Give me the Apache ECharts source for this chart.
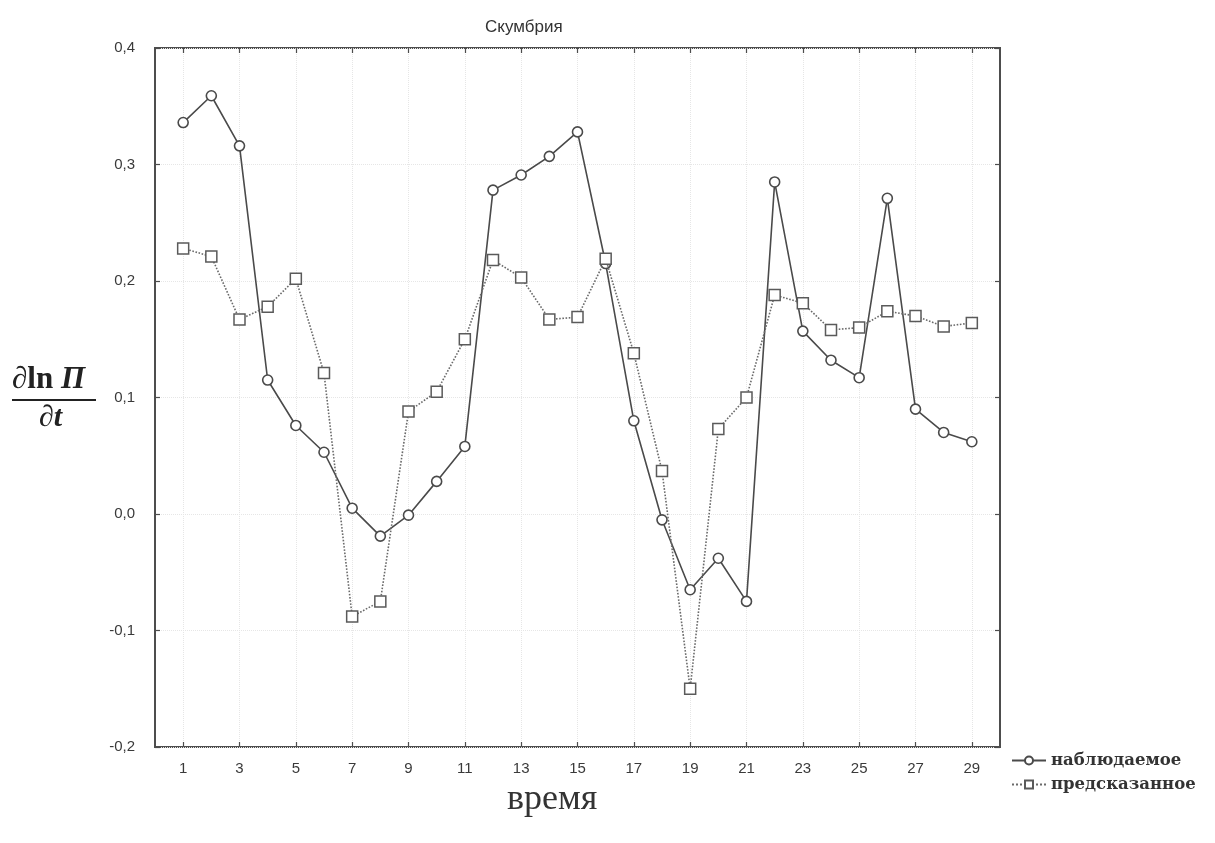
<!DOCTYPE html>
<html>
<head>
<meta charset="utf-8">
<script src="https://cdn.jsdelivr.net/npm/echarts@6/dist/echarts.min.js"></script>
<style>
  html, body { margin: 0; padding: 0; background: #fff; }
  #chart { width: 1215px; height: 843px; }
</style>
</head>
<body>
<div id="chart"></div>
<script>
// Time steps (x) and the two series of d ln П / dt
const timeSteps = [1, 2, 3, 4, 5, 6, 7, 8, 9, 10, 11, 12, 13, 14, 15,
                   16, 17, 18, 19, 20, 21, 22, 23, 24, 25, 26, 27, 28, 29];
const observed = [0.336, 0.359, 0.316, 0.115, 0.076, 0.053, 0.005, -0.019, -0.001, 0.028,
                  0.058, 0.278, 0.291, 0.307, 0.328, 0.215, 0.080, -0.005, -0.065, -0.038,
                  -0.075, 0.285, 0.157, 0.132, 0.117, 0.271, 0.090, 0.070, 0.062];
const predicted = [0.228, 0.221, 0.167, 0.178, 0.202, 0.121, -0.088, -0.075, 0.088, 0.105,
                   0.150, 0.218, 0.203, 0.167, 0.169, 0.219, 0.138, 0.037, -0.150, 0.073,
                   0.100, 0.188, 0.181, 0.158, 0.160, 0.174, 0.170, 0.161, 0.164];
const xTickValues = [1, 3, 5, 7, 9, 11, 13, 15, 17, 19, 21, 23, 25, 27, 29];

const seriesNames = ['наблюдаемое', 'предсказанное'];
const titleText = 'Скумбрия';
const xAxisTitle = 'время';

const chart = echarts.init(document.getElementById('chart'));

const frameColor = '#4d4d4d';
const labelFont = { fontFamily: 'Liberation Sans, Arial, sans-serif', fontSize: 15, color: '#3a3a3a' };
const gridLine = { show: true, lineStyle: { color: '#e6e6e6', type: 'dotted', width: 1 } };
const tickStyle = { show: true, inside: true, length: 5, lineStyle: { color: frameColor, width: 1.2 } };

const pairs = arr => timeSteps.map((t, i) => [t, arr[i]]);
const commaFmt = v => v.toFixed(1).replace('.', ',');

chart.setOption({
  animation: false,
  backgroundColor: '#fff',
  grid: { left: 155, right: 215, top: 48, bottom: 96, show: true, borderColor: frameColor, borderWidth: 2, backgroundColor: 'transparent' },
  xAxis: [
    {
      type: 'value', min: 0, max: 30, position: 'bottom',
      axisLine: { show: false, onZero: false },
      axisTick: Object.assign({ customValues: xTickValues }, tickStyle),
      axisLabel: Object.assign({ margin: 14, customValues: xTickValues, formatter: v => String(v) }, labelFont),
      splitLine: gridLine
    },
    {
      type: 'value', min: 0, max: 30, position: 'top',
      axisLine: { show: false, onZero: false },
      axisTick: Object.assign({ customValues: xTickValues }, tickStyle),
      axisLabel: { show: false },
      splitLine: { show: false }
    }
  ],
  yAxis: [
    {
      type: 'value', min: -0.2, max: 0.4, interval: 0.1, position: 'left',
      axisLine: { show: false, onZero: false },
      axisTick: tickStyle,
      axisLabel: Object.assign({ margin: 20, formatter: commaFmt }, labelFont),
      splitLine: gridLine
    },
    {
      type: 'value', min: -0.2, max: 0.4, interval: 0.1, position: 'right',
      axisLine: { show: false, onZero: false },
      axisTick: tickStyle,
      axisLabel: { show: false },
      splitLine: { show: false }
    }
  ],
  legend: {
    orient: 'vertical', left: 1006, top: 747, itemWidth: 34, itemHeight: 10, itemGap: 7,
    data: seriesNames,
    textStyle: { fontFamily: 'DejaVu Serif, serif', fontWeight: 'bold', fontSize: 16.5, color: '#333' }
  },
  series: [
    {
      name: seriesNames[0], type: 'line', data: pairs(observed), z: 3,
      symbol: 'circle', symbolSize: 10, showAllSymbol: true,
      lineStyle: { color: '#4a4a4a', width: 1.6 },
      itemStyle: { color: '#ffffff', borderColor: '#4a4a4a', borderWidth: 1.6 }
    },
    {
      name: seriesNames[1], type: 'line', data: pairs(predicted), z: 4,
      symbol: 'rect', symbolSize: 11, showAllSymbol: true,
      lineStyle: { color: '#6a6a6a', width: 1.6, type: 'dotted' },
      itemStyle: { color: '#ffffff', borderColor: '#5a5a5a', borderWidth: 1.5 }
    }
  ],
  graphic: [
    { type: 'text', left: 485, top: 19, style: { text: titleText, font: '17px "Liberation Sans", Arial, sans-serif', fill: '#333' } },
    { type: 'text', left: 507, top: 782, style: { text: xAxisTitle, font: '36px "Liberation Serif", "Times New Roman", serif', fill: '#333' } },
    // y axis label as a fraction: ∂ln П / ∂t
    { type: 'text', left: 12, top: 364, style: {
        text: '{i|∂}{r|ln }{i|П}',
        rich: {
          i: { font: 'italic bold 31px "Liberation Serif", serif', fill: '#222' },
          r: { font: 'bold 31px "Liberation Serif", serif', fill: '#222' }
        }
    } },
    { type: 'line', shape: { x1: 12, y1: 400, x2: 96, y2: 400 }, style: { stroke: '#222', lineWidth: 2 } },
    { type: 'text', left: 39, top: 403, style: { text: '∂t', font: 'italic bold 30px "Liberation Serif", serif', fill: '#222' } }
  ]
});
</script>
</body>
</html>
